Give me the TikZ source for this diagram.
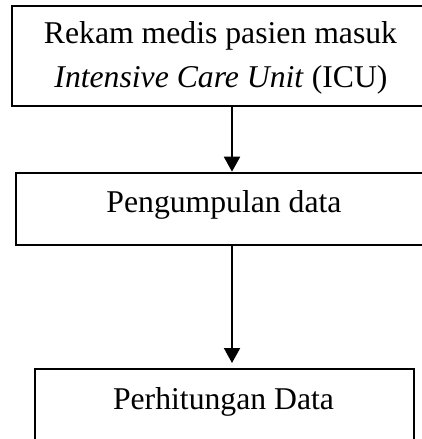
\documentclass[tikz,border=0pt]{standalone}
\usepackage{fontspec}
\setmainfont{Liberation Serif}
\usetikzlibrary{arrows.meta}
\tikzset{
  box/.style={draw=black, line width=2pt, rectangle, inner sep=0pt, fill=white},
  lbl/.style={inner sep=0pt, anchor=base, font=\fontsize{31.7}{38}\selectfont},
  arr/.style={draw=black, line width=2pt, -{Triangle[width=16pt,length=15pt]}}
}
\begin{document}
\begin{tikzpicture}[x=1pt,y=-1pt]
\useasboundingbox (0,0) rectangle (422,439);
\clip (0,0) rectangle (422,439);
\node[box, minimum width=418pt, minimum height=100pt] (b1) at (221,56) {};
\node[box, minimum width=416pt, minimum height=72pt] (b2) at (224,208.7) {};
\node[box, minimum width=378.5pt, minimum height=72pt] (b3) at (224.25,405) {};
\node[lbl] (t1a) at (220.5,43) {Rekam medis pasien masuk};
\node[lbl] (t1b) at (221,87) {\textit{Intensive Care Unit} (ICU)};
\node[lbl] (t2) at (224,212) {Pengumpulan data};
\node[lbl] (t3) at (223.5,409) {Perhitungan Data};
\coordinate (ax) at (232,0);
\draw[arr] (b1.south -| ax) -- (b2.north -| ax);
\draw[arr, shorten >=5pt] (b2.south -| ax) -- (b3.north -| ax);
\end{tikzpicture}
\end{document}
